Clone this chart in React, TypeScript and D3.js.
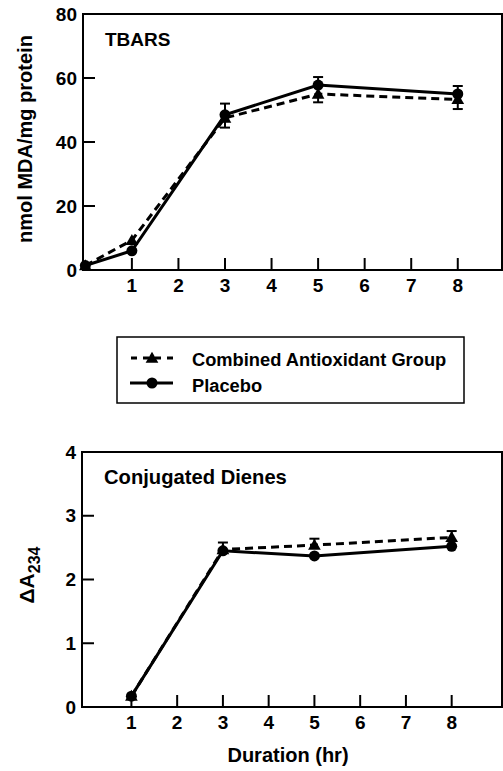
import * as d3 from "d3";

// TBARS panel (nmol MDA/mg protein)
const tbarsHours = [0, 1, 3, 5, 8];
const tbarsPlacebo = [1.4, 6, 48.5, 57.8, 55];
const tbarsPlaceboErr = [0, 0, 3.5, 2.5, 2.5];
const tbarsAntiox = [1.4, 9.3, 47.5, 55, 53.3];
const tbarsAntioxErr = [0, 0, 3, 2.6, 3];
const tbarsYTicks = [0, 20, 40, 60, 80];

// Conjugated dienes panel (delta A234)
const dienesHours = [1, 3, 5, 8];
const dienesPlacebo = [0.17, 2.45, 2.37, 2.52];
const dienesAntiox = [0.17, 2.47, 2.54, 2.66];
const dienesAntioxErr = [0, 0.11, 0.1, 0.1];
const dienesYTicks = [0, 1, 2, 3, 4];

const xTickLabels = [1, 2, 3, 4, 5, 6, 7, 8];
const legendLabels = ["Combined Antioxidant Group", "Placebo"];

const FONT = "'Liberation Sans', Arial, Helvetica, sans-serif";
const TICK = 12;

const tri = d3.symbol().type(d3.symbolTriangle).size(70)();

type PanelProps = {
  left: number;
  right: number;
  top: number;
  bottom: number;
  xDomain: [number, number];
  yMax: number;
  yTicks: number[];
  hours: number[];
  placebo: number[];
  antiox: number[];
  placeboErr: number[];
  antioxErr: number[];
  antioxErrDown: boolean;
  title: string;
  titleSize: number;
};

const Panel = (p: PanelProps) => {
  const x = d3.scaleLinear().domain(p.xDomain).range([p.left, p.right]);
  const y = d3.scaleLinear().domain([0, p.yMax]).range([p.bottom, p.top]);
  const line = d3
    .line<number>()
    .x((_, i) => x(p.hours[i]))
    .y((d) => y(d));
  const sign = p.antioxErrDown ? -1 : 1;

  return (
    <g>
      <rect
        x={p.left}
        y={p.top}
        width={p.right - p.left}
        height={p.bottom - p.top}
        fill="none"
        stroke="#000"
        strokeWidth={2}
      />
      {p.yTicks.map((t) => (
        <g key={"y" + t}>
          <line x1={p.left} x2={p.left + TICK} y1={y(t)} y2={y(t)} stroke="#000" strokeWidth={2} />
          <text x={p.left - 6} y={y(t) + 6.5} textAnchor="end" fontSize={19} fontWeight="bold">
            {t}
          </text>
        </g>
      ))}
      {xTickLabels.map((t) => (
        <g key={"x" + t}>
          <line x1={x(t)} x2={x(t)} y1={p.bottom} y2={p.bottom - TICK} stroke="#000" strokeWidth={2} />
          <text x={x(t)} y={p.bottom + 22} textAnchor="middle" fontSize={19} fontWeight="bold">
            {t}
          </text>
        </g>
      ))}
      <text x={p.left + 22} y={p.top + 32} fontSize={p.titleSize} fontWeight="bold">
        {p.title}
      </text>

      {/* error bars */}
      {p.hours.map((h, i) => {
        const pe = y(p.placebo[i] + p.placeboErr[i]);
        const ae = y(p.antiox[i] + sign * p.antioxErr[i]);
        return (
          <g key={"e" + h} stroke="#000" strokeWidth={2}>
            {p.placeboErr[i] > 0 && (
              <>
                <line x1={x(h)} x2={x(h)} y1={y(p.placebo[i])} y2={pe} />
                <line x1={x(h) - 5} x2={x(h) + 5} y1={pe} y2={pe} />
              </>
            )}
            {p.antioxErr[i] > 0 && (
              <>
                <line x1={x(h)} x2={x(h)} y1={y(p.antiox[i])} y2={ae} />
                <line x1={x(h) - 5} x2={x(h) + 5} y1={ae} y2={ae} />
              </>
            )}
          </g>
        );
      })}

      <path d={line(p.antiox) || ""} fill="none" stroke="#000" strokeWidth={3} strokeDasharray="8,5" />
      <path d={line(p.placebo) || ""} fill="none" stroke="#000" strokeWidth={3} />
      {p.hours.map((h, i) => (
        <path key={"t" + h} d={tri || ""} transform={`translate(${x(h)},${y(p.antiox[i]) + 1})`} fill="#000" />
      ))}
      {p.hours.map((h, i) => (
        <circle key={"c" + h} cx={x(h)} cy={y(p.placebo[i])} r={5.5} fill="#000" />
      ))}
    </g>
  );
};

export default function App() {
  return (
    <svg
      width={503}
      height={771}
      style={{ position: "absolute", left: 0, top: 0, background: "#fff" }}
      fontFamily={FONT}
    >
      <rect width={503} height={771} fill="#fff" />
      <Panel
        left={83}
        right={502}
        top={14}
        bottom={270}
        xDomain={[-0.05, 8.95]}
        yMax={80}
        yTicks={tbarsYTicks}
        hours={tbarsHours}
        placebo={tbarsPlacebo}
        antiox={tbarsAntiox}
        placeboErr={tbarsPlaceboErr}
        antioxErr={tbarsAntioxErr}
        antioxErrDown={true}
        title="TBARS"
        titleSize={19}
      />
      <text transform="translate(32,139) rotate(-90)" textAnchor="middle" fontSize={20} fontWeight="bold">
        nmol MDA/mg protein
      </text>

      {/* legend */}
      <rect x={117} y={337} width={347} height={66} fill="none" stroke="#000" strokeWidth={1.5} />
      <line x1={130} x2={173} y1={358} y2={358} stroke="#000" strokeWidth={3} strokeDasharray="6,6" strokeDashoffset={-1} />
      <path d={tri || ""} transform="translate(152,359)" fill="#000" />
      <line x1={130} x2={173} y1={383} y2={383} stroke="#000" strokeWidth={3} />
      <circle cx={152} cy={383} r={5.5} fill="#000" />
      <text x={192} y={366} fontSize={18.3} fontWeight="bold">
        {legendLabels[0]}
      </text>
      <text x={192} y={392} fontSize={18.3} fontWeight="bold">
        {legendLabels[1]}
      </text>

      <Panel
        left={82}
        right={502}
        top={452}
        bottom={707}
        xDomain={[-0.08, 9.1]}
        yMax={4}
        yTicks={dienesYTicks}
        hours={dienesHours}
        placebo={dienesPlacebo}
        antiox={dienesAntiox}
        placeboErr={[0, 0, 0, 0]}
        antioxErr={dienesAntioxErr}
        antioxErrDown={false}
        title="Conjugated Dienes"
        titleSize={20.2}
      />
      <text transform="translate(34,575) rotate(-90)" textAnchor="middle" fontSize={21} fontWeight="bold">
        ΔA<tspan fontSize={16} dy={6}>234</tspan>
      </text>
      <text x={288} y={762} textAnchor="middle" fontSize={20} fontWeight="bold">
        Duration (hr)
      </text>
    </svg>
  );
}
